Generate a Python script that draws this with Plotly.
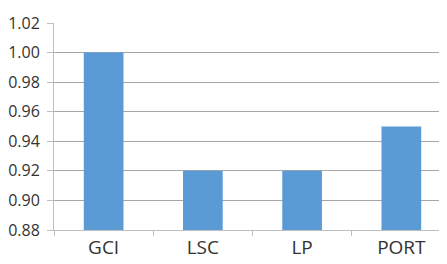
import plotly.graph_objects as go

categories = ["GCI", "LSC", "LP", "PORT"]
values = [1.00, 0.92, 0.92, 0.95]
y_ticks = [0.88, 0.90, 0.92, 0.94, 0.96, 0.98, 1.00, 1.02]

fig = go.Figure(go.Bar(x=categories, y=values, marker_color="#5B9BD5",
                       marker_line_width=0, width=0.4))

# the page body has an 8px default margin, so the figure is offset by 8px
fig.update_layout(
    width=439, height=256,
    margin=dict(l=43, r=0, t=15, b=34),
    paper_bgcolor="white", plot_bgcolor="white",
    font=dict(family="Open Sans", color="#333333"),
    showlegend=False,
)
fig.update_yaxes(range=[0.88, 1.02], tickvals=y_ticks, tickformat=".2f",
                 showgrid=True, gridcolor="#A6A6A6", gridwidth=1,
                 showline=True, linecolor="#BFBFBF", linewidth=1,
                 ticks="outside", ticklen=6, tickcolor="#BFBFBF",
                 ticklabelstandoff=4,
                 tickfont=dict(size=16), zeroline=False)
fig.update_xaxes(range=[-0.5, 3.46], showgrid=False,
                 showline=True, linecolor="#BFBFBF", linewidth=1,
                 ticks="outside", ticklen=5, tickcolor="#BFBFBF",
                 ticklabelstandoff=0,
                 tickson="boundaries", tickfont=dict(size=19))

fig.write_html("out.html")
